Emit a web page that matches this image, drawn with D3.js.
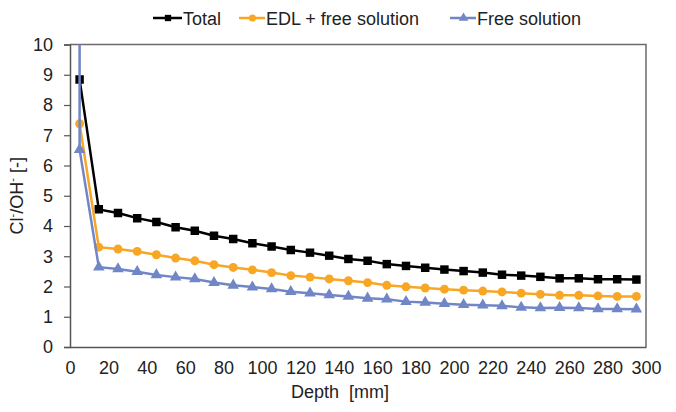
<!DOCTYPE html>
<html lang="en">
<head>
  <meta charset="UTF-8">
  <title>Cl/OH ratio vs depth</title>
  <script src="https://d3js.org/d3.v7.min.js"></script>
  <style>
    body {
      margin: 0;
      background: #fff;
      font-family: "Liberation Sans", Arial, sans-serif;
    }
    svg text {
      fill: #222;
    }
    .tick-label {
      font-size: 18px;
    }
    .legend text {
      font-size: 18px;
    }
  </style>
</head>
<body>
<svg width="676" height="412"></svg>
<script>
  // Data
  const depths = [5, 15, 25, 35, 45, 55, 65, 75, 85, 95, 105, 115, 125, 135, 145,
                  155, 165, 175, 185, 195, 205, 215, 225, 235, 245, 255, 265, 275, 285, 295];
  const total = [8.84, 4.55, 4.43, 4.26, 4.13, 3.96, 3.84, 3.68, 3.57, 3.43, 3.32, 3.21, 3.12, 3.02, 2.91,
                 2.85, 2.74, 2.68, 2.62, 2.56, 2.51, 2.46, 2.39, 2.36, 2.32, 2.27, 2.27, 2.24, 2.24, 2.23];
  const edl = [7.38, 3.30, 3.24, 3.16, 3.05, 2.94, 2.85, 2.72, 2.63, 2.55, 2.46, 2.36, 2.31, 2.25, 2.19,
               2.13, 2.04, 1.99, 1.95, 1.91, 1.88, 1.85, 1.82, 1.78, 1.74, 1.71, 1.71, 1.69, 1.67, 1.67];
  const free = [6.52, 2.64, 2.58, 2.49, 2.38, 2.31, 2.25, 2.13, 2.04, 1.98, 1.92, 1.83, 1.78, 1.72, 1.67,
                1.61, 1.58, 1.50, 1.47, 1.43, 1.40, 1.38, 1.36, 1.31, 1.29, 1.30, 1.29, 1.26, 1.26, 1.25];
  // free solution starts above the axis maximum (off the chart)
  const freeStart = {depth: 5, value: 11.5};

  const xTicks = d3.range(0, 301, 20);
  const yTicks = d3.range(0, 11, 1);

  const series = [
    {name: "Total", values: total, color: "#000000", marker: "square"},
    {name: "EDL + free solution", values: edl, color: "#F8A623", marker: "circle"},
    {name: "Free solution", values: free, color: "#7086C6", marker: "triangle", start: freeStart}
  ];

  const svg = d3.select("svg");
  const margin = {left: 70, right: 30, top: 44.5, bottom: 65};
  const width = 676, height = 412;

  const x = d3.scaleLinear().domain([0, 300]).range([margin.left, width - margin.right]);
  const y = d3.scaleLinear().domain([0, 10]).range([height - margin.bottom, margin.top]);

  // Clip to plot area
  svg.append("defs").append("clipPath").attr("id", "plot-clip")
    .append("rect")
    .attr("x", x(0)).attr("y", y(10))
    .attr("width", x(300) - x(0)).attr("height", y(0) - y(10));

  // Plot frame (top and right)
  svg.append("path")
    .attr("d", `M${x(0)},${y(10)}H${x(300)}V${y(0)}`)
    .attr("fill", "none")
    .attr("stroke", "#6b6b6b")
    .attr("stroke-width", 1.5);

  // Y axis
  const yAxis = svg.append("g")
    .attr("transform", `translate(${x(0)},0)`)
    .call(d3.axisLeft(y).tickValues(yTicks).tickSize(6).tickPadding(11).tickFormat(d3.format("d")));
  yAxis.select(".domain").attr("stroke", "#555").attr("stroke-width", 1.5);
  yAxis.selectAll(".tick line").attr("stroke", "#555").attr("stroke-width", 1.2);
  yAxis.selectAll(".tick text").attr("class", "tick-label")
    .style("font-family", "Liberation Sans, Arial, sans-serif").attr("fill", "#222");

  // X axis
  const xAxis = svg.append("g")
    .attr("transform", `translate(0,${y(0)})`)
    .call(d3.axisBottom(x).tickValues(xTicks).tickSize(0).tickPadding(14).tickFormat(d3.format("d")));
  xAxis.select(".domain").attr("stroke", "#555").attr("stroke-width", 1.5);
  xAxis.selectAll(".tick text").attr("class", "tick-label")
    .style("font-family", "Liberation Sans, Arial, sans-serif").attr("fill", "#222");

  // Axis titles
  svg.append("text")
    .attr("x", 340).attr("y", 398)
    .attr("text-anchor", "middle")
    .style("font-size", "18px")
    .style("white-space", "pre")
    .text("Depth \u00a0[mm]");

  const yTitle = svg.append("text")
    .attr("transform", `translate(23,${(y(0) + y(10)) / 2}) rotate(-90)`)
    .attr("text-anchor", "middle")
    .style("font-size", "18px");
  yTitle.append("tspan").text("Cl");
  yTitle.append("tspan").attr("dy", -7).style("font-size", "11px").text("-");
  yTitle.append("tspan").attr("dy", 7).text("/OH");
  yTitle.append("tspan").attr("dy", -7).style("font-size", "11px").text("-");
  yTitle.append("tspan").attr("dy", 7).text(" [-]");

  // Marker symbols
  const symbolOf = {
    square: d3.symbol().type(d3.symbolSquare).size(72),
    circle: d3.symbol().type(d3.symbolCircle).size(62),
    triangle: d3.symbol().type(d3.symbolTriangle).size(58)
  };

  const line = d3.line().x(d => x(d[0])).y(d => y(d[1]));
  const plot = svg.append("g").attr("clip-path", "url(#plot-clip)");

  series.forEach(s => {
    const pts = depths.map((d, i) => [d, s.values[i]]);
    const linePts = s.start ? [[s.start.depth, s.start.value]].concat(pts) : pts;
    plot.append("path")
      .datum(linePts)
      .attr("fill", "none")
      .attr("stroke", s.color)
      .attr("stroke-width", 2.5)
      .attr("d", line);
    plot.append("g").selectAll("path")
      .data(pts)
      .join("path")
      .attr("transform", d => `translate(${x(d[0])},${y(d[1])})`)
      .attr("d", symbolOf[s.marker])
      .attr("fill", s.color);
  });

  // Legend
  const legendItems = [
    {x0: 153, tx: 183},
    {x0: 239, tx: 266},
    {x0: 450, tx: 477}
  ];
  const legend = svg.append("g").attr("class", "legend");
  series.forEach((s, i) => {
    const li = legendItems[i];
    const g = legend.append("g");
    g.append("line")
      .attr("x1", li.x0).attr("x2", li.tx - 1)
      .attr("y1", 18).attr("y2", 18)
      .attr("stroke", s.color).attr("stroke-width", 2.5);
    g.append("path")
      .attr("transform", `translate(${(li.x0 + li.tx) / 2},18)`)
      .attr("d", d3.symbol().type(
        s.marker === "square" ? d3.symbolSquare : s.marker === "circle" ? d3.symbolCircle : d3.symbolTriangle
      ).size(40))
      .attr("fill", s.color);
    g.append("text")
      .attr("x", li.tx).attr("y", 25)
      .text(s.name);
  });
</script>
</body>
</html>
